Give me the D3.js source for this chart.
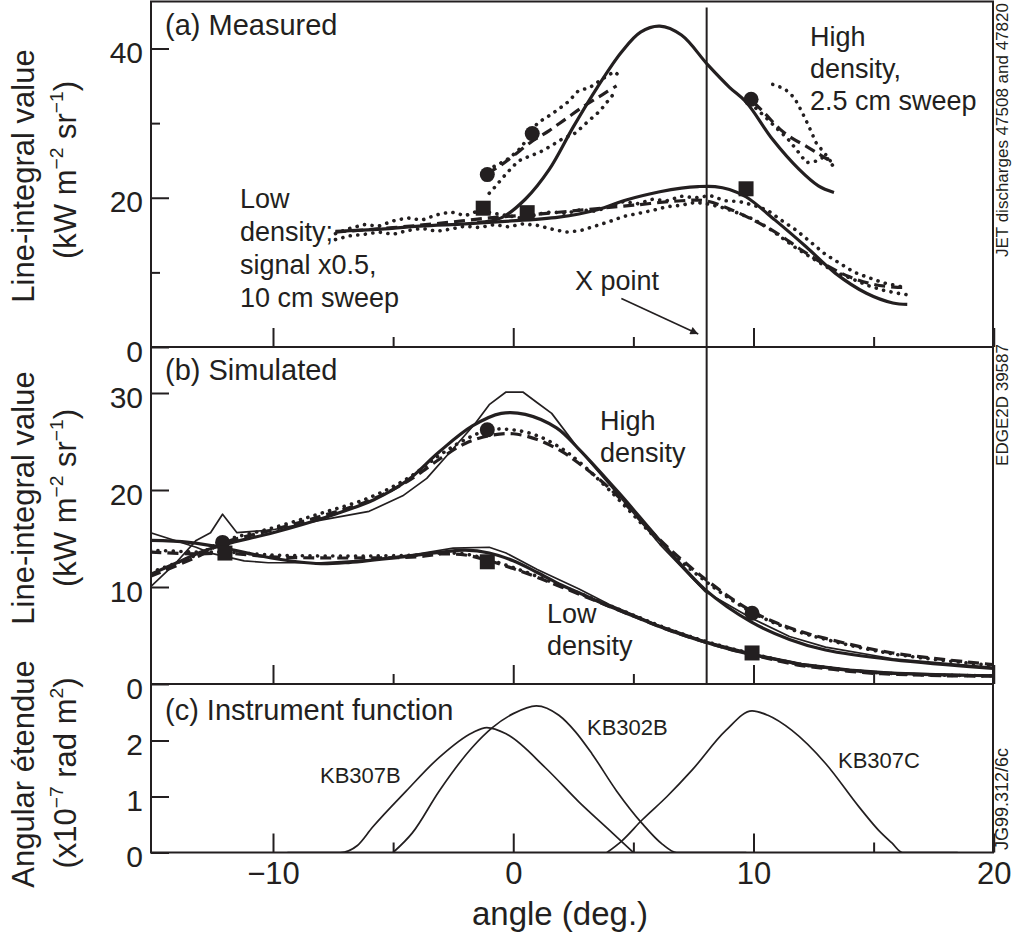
<!DOCTYPE html>
<html>
<head>
<meta charset="utf-8">
<script src="https://cdn.jsdelivr.net/npm/d3@7"></script>
<style>
body{margin:0;background:#fff;}
svg text{font-family:"Liberation Sans",Arial,Helvetica,sans-serif;fill:#231f20;}
</style>
</head>
<body>
<div class="graphics"></div>
<script>
// ---- panel (a) measured ----
var aHighSolid = [[-1.5,16.7],[-0.5,17.3],[0.5,19.8],[1.5,23.8],[2.5,29.5],[3.5,34.8],[4.5,39.5],[5.3,42.2],[6.1,43.0],[7.0,41.8],[8.1,37.8],[9.0,34.8],[9.7,32.8],[10.8,27.8],[11.9,23.8],[12.7,21.6],[13.35,20.7]];
var aLowSolid = [[-7.4,15.5],[-5.5,15.8],[-3.9,16.2],[-2,16.5],[-0.5,16.8],[1.9,17.4],[3.5,18.4],[4.7,19.7],[6.1,20.8],[7.0,21.3],[7.7,21.5],[8.4,21.5],[9.0,21.1],[9.7,20.1],[10.9,17.0],[12.2,13.4],[13.4,9.9],[14.7,7.2],[15.8,5.9],[16.4,5.7]];
var aLowDash = [[-7.4,15.4],[-5,16.0],[-3,16.6],[-1,17.3],[1,17.8],[3,18.4],[5,19.0],[7,19.6],[8,19.6],[9,18.5],[10,17.0],[11,15.2],[12,13.0],[13,11.0],[14,9.4],[15,8.4],[16,8.0],[16.4,8.0]];
var aLowDotUpper = [[-7.4,15.2],[-6.8,15.9],[-6.2,16.4],[-5.6,16.2],[-5,16.9],[-4.4,17.3],[-3.8,17.0],[-3.2,17.7],[-2.6,18.1],[-2,17.6],[-1.4,18.3],[-0.8,17.9],[-0.2,17.6],[0.4,17.2],[1,17.8],[1.6,18.1],[2.2,17.9],[2.8,18.4],[3.4,18.2],[4,18.8],[4.6,19.5],[5.2,19.2],[5.8,19.8],[6.4,19.6],[7,20.2],[7.6,20.0],[8.2,20.3],[8.8,19.6],[9.4,19.5],[10,19.0],[10.6,18.3],[11.2,16.9],[11.8,15.6],[12.4,14.0],[13,12.4],[13.6,11.2],[14.2,10.0],[14.8,9.3],[15.4,8.6],[16,8.2],[16.4,7.8]];
var aLowDotLower = [[-7.4,14.4],[-6.8,14.9],[-6.2,15.1],[-5.6,15.4],[-5,15.1],[-4.4,15.6],[-3.8,15.9],[-3.2,15.5],[-2.6,15.8],[-2,16.2],[-1.4,16.0],[-0.8,16.4],[-0.2,16.1],[0.4,16.5],[1,16.3],[1.6,15.8],[2.2,15.4],[2.8,15.6],[3.4,16.2],[4,16.8],[4.6,17.5],[5.2,17.9],[5.8,18.3],[6.4,18.8],[7,19.0],[7.6,19.4],[8.2,19.1],[8.8,18.6],[9.4,17.9],[10,17.1],[10.6,16.0],[11.2,14.6],[11.8,13.2],[12.4,12.0],[13,10.8],[13.6,9.8],[14.2,9.0],[14.8,8.2],[15.4,7.6],[16,7.2],[16.4,7.0]];
var aHighDashLeft = [[-1.1,23.2],[-0.5,24.4],[0,25.6],[0.8,27.6],[1.5,29.0],[2.2,30.6],[3,32.4],[3.7,33.8],[4.3,35.0]];
var aHighDotLeftUpper = [[-0.8,24.2],[-0.3,25.0],[0.2,26.3],[0.7,28.3],[1.0,30.0],[1.5,31.0],[1.9,31.9],[2.3,32.9],[2.7,34.3],[3.2,34.8],[3.7,35.9],[4.2,36.9],[4.4,36.4]];
var aHighDotLeftLower = [[-1.0,20.6],[-0.8,21.3],[-0.3,23.2],[0.2,24.9],[0.7,25.6],[1.1,26.1],[1.6,27.0],[2.0,27.8],[2.6,28.7],[3.1,30.2],[3.6,31.6],[4.0,33.2],[4.3,34.4]];
var aHighDashRight = [[10.0,32.8],[10.5,31.2],[11.1,29.2],[11.6,28.0],[12.2,26.9],[12.7,25.9],[13.1,25.1]];
var aHighDotRightUpper = [[10.8,35.2],[11.3,34.6],[11.7,33.4],[12.0,31.6],[12.3,29.6],[12.6,27.4],[13.0,25.8],[13.3,24.5]];
var aHighDotRightLower = [[10.1,32.0],[10.5,30.8],[11.0,29.2],[11.4,28.0],[11.8,26.4],[12.2,24.7],[12.6,24.9],[13.0,25.6],[13.3,24.3]];
var aCircles = [[-1.08,23.1],[0.79,28.6],[9.9,33.2]];
var aSquares = [[-1.25,18.6],[0.58,18.0],[9.69,21.2]];

// ---- panel (b) simulated ----
var bHighThick = [[-15.1,11.3],[-14,12.5],[-13,13.6],[-12,14.4],[-10,15.6],[-7.8,17.2],[-5.8,19.0],[-4.4,21.0],[-3.1,23.9],[-1.7,26.6],[-0.5,27.9],[0.5,27.8],[1.8,26.4],[2.7,24.3],[4.4,19.7],[6.1,14.8],[8.0,9.7],[9.9,6.4],[11.5,4.6],[13,3.5],[15.8,2.5],[20,1.6]];
var bHighThin = [[-15.1,10.0],[-14,12.6],[-13.2,14.8],[-12.6,15.6],[-12.1,17.5],[-11.5,15.6],[-10,15.9],[-8,16.9],[-6,17.8],[-4.6,19.4],[-3.6,21.2],[-2.6,24.0],[-1.6,26.8],[-1,28.8],[-0.3,30.1],[0.4,30.1],[1.0,29.0],[1.6,27.9],[2.7,24.3],[4.4,19.4],[6.1,14.4],[8.0,9.5],[9.9,6.8],[11.5,4.9],[13,3.8],[15.8,2.6],[20,1.7]];
var bHighDash = [[-15.1,11.1],[-13,13.3],[-12.1,14.5],[-10,15.9],[-8,17.3],[-6,18.9],[-4.4,20.9],[-3,23.3],[-2,24.8],[-1,25.6],[0,25.8],[1,25.2],[2,24.0],[2.7,22.8],[4,20.2],[6,15.1],[8,10.8],[10,7.4],[11.5,5.8],[13,4.7],[15.8,3.2],[20,2.0]];
var bHighDot = [[-15.1,11.5],[-13,13.5],[-12.1,14.7],[-10,16.1],[-8,17.6],[-6,19.2],[-4.4,21.2],[-3,23.7],[-2,25.2],[-1,26.2],[0,26.2],[1,25.6],[2,24.3],[2.7,23.0],[4,20.0],[6,14.9],[8,10.6],[10,7.3],[11.5,5.7],[13,4.6],[15.8,3.1],[20,1.9]];
var bLowThick = [[-15.1,14.8],[-13.5,14.6],[-12,14.0],[-10.5,13.2],[-9,12.6],[-8,12.4],[-7,12.5],[-5,13.0],[-3,13.6],[-2,13.8],[-1,13.5],[0,12.7],[1,11.5],[2,10.2],[2.74,9.4],[4,8.0],[5,7.0],[6,6.0],[7,5.1],[8,4.3],[9,3.6],[10,3.0],[11,2.5],[12,2.0],[13,1.7],[14,1.4],[15,1.2],[16,1.1],[17,1.0],[18.5,0.9],[20,0.85]];
var bLowThin = [[-15.1,15.6],[-13.2,14.1],[-12.6,13.5],[-11.2,12.7],[-10.2,12.5],[-8,12.5],[-6,12.8],[-4,13.4],[-2.5,14.0],[-1,14.1],[-0.3,13.5],[1,11.8],[2.74,9.8],[4,8.2],[6,6.1],[8,4.4],[10,3.1],[12,2.1],[14,1.5],[16,1.15],[20,0.9]];
var bLowDash = [[-15.1,13.6],[-13,13.4],[-12,13.5],[-10,13.1],[-8,13.0],[-6,13.0],[-4,13.1],[-3,13.4],[-2,13.3],[-1,12.7],[0,11.9],[1,11.0],[2,10.0],[3,9.0],[4,8.0],[5,7.0],[6,6.0],[7,5.1],[8,4.3],[9,3.6],[10,3.0],[11,2.4],[12,1.9],[13,1.6],[14,1.3],[15,1.1],[16,1.0],[18,0.85],[20,0.8]];
var bLowDot = [[-15.1,13.8],[-13,13.6],[-12,13.6],[-10,13.3],[-8,13.2],[-6,13.2],[-4,13.3],[-3,13.5],[-2,13.4],[-1,12.8],[0,12.0],[1,11.1],[2,10.1],[3,9.1],[4,8.1],[5,7.1],[6,6.1],[7,5.2],[8,4.4],[9,3.7],[10,3.1],[11,2.5],[12,2.0],[13,1.7],[14,1.4],[15,1.2],[16,1.05],[18,0.9],[20,0.85]];
var bCircles = [[-12.1,14.6],[-1.08,26.2],[9.94,7.3]];
var bSquares = [[-12.0,13.5],[-1.08,12.6],[9.94,3.2]];

// ---- panel (c) instrument function ----
var kb307B = [[-9.4,0],[-7.2,0],[-6.5,0.12],[-5.86,0.45],[-4.45,1.1],[-3.08,1.7],[-1.7,2.14],[-1.1,2.23],[-0.3,2.12],[1.37,1.5],[2.74,0.9],[4.0,0.4],[5.0,0]];
var kb302B = [[-5.0,0],[-4.2,0.35],[-3.08,1.1],[-1.7,1.88],[-0.87,2.23],[0.0,2.48],[0.96,2.62],[1.9,2.45],[2.6,2.15],[3.28,1.76],[4.3,1.1],[5.36,0.52],[6.2,0.15],[6.8,0],[9.7,0]];
var kb307C = [[3.9,0],[4.5,0.2],[5.36,0.58],[6.4,1.0],[7.44,1.47],[8.85,2.18],[9.94,2.53],[10.6,2.45],[11.6,2.18],[13.0,1.59],[14.4,0.81],[15.2,0.4],[15.76,0.17],[16.2,0],[18.5,0]];

// ticks
var xMajor = [-10,0,10,20], xMinor = [-5,5,15];
var aMajor = [0,20,40], aMinor = [10,30];
var bMajor = [0,10,20,30];
var cMajor = [0,1,2];
var xPointAngle = 8.05;

var left = 151, right = 993;
var x = d3.scaleLinear().domain([-10,10]).range([273,753.5]);
var yA = d3.scaleLinear().domain([0,40]).range([347,48.5]);
var yB = d3.scaleLinear().domain([0,30]).range([684,393]);
var yC = d3.scaleLinear().domain([0,2]).range([852.5,740.5]);
var ink = '#231f20';

var svg = d3.select('.graphics').append('svg')
    .attr('width',1018).attr('height',938);

var defs = svg.append('defs');
//clip por panel
[['clipA',2,347],['clipB',347,684],['clipC',684,852.5]].forEach(function(c){
    defs.append('clipPath').attr('id',c[0]).append('rect')
        .attr('x',left).attr('y',c[1]).attr('width',right-left).attr('height',c[2]-c[1]);
});
defs.append('marker').attr('id','arrow').attr('viewBox','0 0 10 10')
    .attr('refX',10).attr('refY',5).attr('markerWidth',7).attr('markerHeight',5)
    .attr('orient','auto').attr('markerUnits','strokeWidth')
  .append('path').attr('d','M0,0L10,5L0,10z').attr('fill',ink);

var styles = {
    thick: {w:3.2, dash:null, cap:'butt'},
    thin: {w:1.7, dash:null, cap:'butt'},
    dash: {w:3.2, dash:'11,6', cap:'butt'},
    dot: {w:3.6, dash:'0.1,7.5', cap:'round'}
};

function drawLine(g, data, yScale, kind, curve){
    var st = styles[kind];
    var line = d3.line()
        .x(function(d){ return x(d[0]); })
        .y(function(d){ return yScale(d[1]); })
        .curve(curve || d3.curveCatmullRom);
    g.append('path')
        .attr('d', line(data))
        .attr('fill','none')
        .attr('stroke',ink)
        .attr('stroke-width',st.w)
        .attr('stroke-linecap',st.cap)
        .attr('stroke-linejoin','round')
        .attr('stroke-dasharray',st.dash);
}

function drawMarkers(g, circles, squares, yScale){
    g.selectAll('circle.m').data(circles).enter().append('circle')
        .attr('class','m')
        .attr('cx',function(d){ return x(d[0]); })
        .attr('cy',function(d){ return yScale(d[1]); })
        .attr('r',7.5).attr('fill',ink);
    g.selectAll('rect.m').data(squares).enter().append('rect')
        .attr('class','m')
        .attr('x',function(d){ return x(d[0])-7.5; })
        .attr('y',function(d){ return yScale(d[1])-7.5; })
        .attr('width',15).attr('height',15).attr('fill',ink);
}

// ---- panel a ----
var gA = svg.append('g').attr('clip-path','url(#clipA)');
drawLine(gA, aLowDotUpper, yA, 'dot', d3.curveLinear);
drawLine(gA, aLowDotLower, yA, 'dot', d3.curveLinear);
drawLine(gA, aLowDash, yA, 'dash');
drawLine(gA, aLowSolid, yA, 'thick');
drawLine(gA, aHighDotLeftUpper, yA, 'dot', d3.curveLinear);
drawLine(gA, aHighDotLeftLower, yA, 'dot', d3.curveLinear);
drawLine(gA, aHighDashLeft, yA, 'dash');
drawLine(gA, aHighDotRightUpper, yA, 'dot', d3.curveLinear);
drawLine(gA, aHighDotRightLower, yA, 'dot', d3.curveLinear);
drawLine(gA, aHighDashRight, yA, 'dash');
drawLine(gA, aHighSolid, yA, 'thick');
drawMarkers(gA, aCircles, aSquares, yA);

// ---- panel b ----
var gB = svg.append('g').attr('clip-path','url(#clipB)');
drawLine(gB, bLowDot, yB, 'dot');
drawLine(gB, bLowDash, yB, 'dash');
drawLine(gB, bLowThin, yB, 'thin', d3.curveLinear);
drawLine(gB, bLowThick, yB, 'thick');
drawLine(gB, bHighDot, yB, 'dot');
drawLine(gB, bHighDash, yB, 'dash');
drawLine(gB, bHighThin, yB, 'thin', d3.curveLinear);
drawLine(gB, bHighThick, yB, 'thick');
drawMarkers(gB, bCircles, bSquares, yB);

// ---- panel c ----
var gC = svg.append('g').attr('clip-path','url(#clipC)');
drawLine(gC, kb307B, yC, 'thin', d3.curveMonotoneX);
drawLine(gC, kb302B, yC, 'thin', d3.curveMonotoneX);
drawLine(gC, kb307C, yC, 'thin', d3.curveMonotoneX);

// X point line + arrow
svg.append('line')
    .attr('x1',x(xPointAngle)).attr('x2',x(xPointAngle))
    .attr('y1',yA(45.5)).attr('y2',yB(0))
    .attr('stroke',ink).attr('stroke-width',2);
svg.append('line')
    .attr('x1',x(4.5)).attr('y1',yA(6.5))
    .attr('x2',x(7.7)).attr('y2',yA(1.75))
    .attr('stroke',ink).attr('stroke-width',1.6)
    .attr('marker-end','url(#arrow)');

// ---- axes ----
function xTicks(yPos, labels){
    var gMaj = svg.append('g').attr('transform','translate(0,'+yPos+')')
        .call(d3.axisBottom(x).tickValues(xMajor).tickSize(-19).tickPadding(9)
            .tickFormat(labels ? d3.format('d') : ''));
    var gMin = svg.append('g').attr('transform','translate(0,'+yPos+')')
        .call(d3.axisBottom(x).tickValues(xMinor).tickSize(-10).tickFormat(''));
    [gMaj,gMin].forEach(function(g){
        g.select('.domain').remove();
        g.selectAll('line').attr('stroke',ink).attr('stroke-width',2);
        g.selectAll('text').attr('font-size',31).attr('fill',ink)
            .style('font-family','"Liberation Sans",Arial,sans-serif');
    });
}
xTicks(yA(0), false);
xTicks(yB(0), false);
xTicks(yC(0), true);

function yTicks(scale, major, minor){
    var gMaj = svg.append('g').attr('transform','translate('+left+',0)')
        .call(d3.axisLeft(scale).tickValues(major).tickSize(-18).tickPadding(8).tickFormat(d3.format('d')));
    gMaj.select('.domain').remove();
    gMaj.selectAll('line').attr('stroke',ink).attr('stroke-width',2);
    gMaj.selectAll('text').attr('font-size',30).attr('dy','0.47em').attr('fill',ink)
        .style('font-family','"Liberation Sans",Arial,sans-serif');
    if(minor){
        var gMin = svg.append('g').attr('transform','translate('+left+',0)')
            .call(d3.axisLeft(scale).tickValues(minor).tickSize(-9).tickFormat(''));
        gMin.select('.domain').remove();
        gMin.selectAll('line').attr('stroke',ink).attr('stroke-width',2);
    }
}
yTicks(yA, aMajor, aMinor);
yTicks(yB, bMajor, null);
yTicks(yC, cMajor, null);

// frame
svg.append('rect').attr('x',left).attr('y',1.5).attr('width',right-left).attr('height',yC(0)-1.5)
    .attr('fill','none').attr('stroke',ink).attr('stroke-width',2);
[yA(0), yB(0)].forEach(function(yy){
    svg.append('line').attr('x1',left).attr('x2',right).attr('y1',yy).attr('y2',yy)
        .attr('stroke',ink).attr('stroke-width',2);
});

// ---- texts ----
function label(txt, px, py, size, anchor){
    return svg.append('text').attr('x',px).attr('y',py)
        .attr('font-size',size).attr('text-anchor',anchor||'start').text(txt);
}
label('(a) Measured',165,35,29);
label('(b) Simulated',165,380,29);
label('(c) Instrument function',165,720,29);

['Low','density;','signal x0.5,','10 cm sweep'].forEach(function(t,i){ label(t,240,208+i*33,27); });
['High','density,','2.5 cm sweep'].forEach(function(t,i){ label(t,810,46+i*32,27); });
label('X point',575,290,27);
['High','density'].forEach(function(t,i){ label(t,600,430+i*32,27); });
['Low','density'].forEach(function(t,i){ label(t,547,623+i*32,27); });
label('KB307B',320,783,22);
label('KB302B',587,735,22);
label('KB307C',838,768,22);
label('angle (deg.)',560,925,33,'middle');

// titulos verticales
function vtitle(parts, px, py, size){
    var t = svg.append('text').attr('transform','translate('+px+','+py+') rotate(-90)')
        .attr('text-anchor','middle').attr('font-size',size);
    parts.forEach(function(p){
        var ts = t.append('tspan').text(p[0]);
        if(p[1]===1){ ts.attr('font-size',size*0.62).attr('dy',-size*0.42); }
        if(p[1]===-1){ ts.attr('dy',size*0.42); }
    });
}
vtitle([['Line-integral value',0]],34,176,31);
vtitle([['(kW m',0],['\u22122',1],[' sr',-1],['\u22121',1],[')',-1]],76,170,31);
vtitle([['Line-integral value',0]],34,498,31);
vtitle([['(kW m',0],['\u22122',1],[' sr',-1],['\u22121',1],[')',-1]],76,498,31);
vtitle([['Angular \u00e9tendue',0]],34,774,31);
vtitle([['(x10',0],['\u22127',1],[' rad m',-1],['2',1],[')',-1]],76,773,31);

vtitle([['JET discharges 47508 and 47820',0]],1008,130,17);
vtitle([['EDGE2D 39587',0]],1008,405,17);
vtitle([['JG99.312/6c',0]],1008,799,18);
</script>
</body>
</html>
